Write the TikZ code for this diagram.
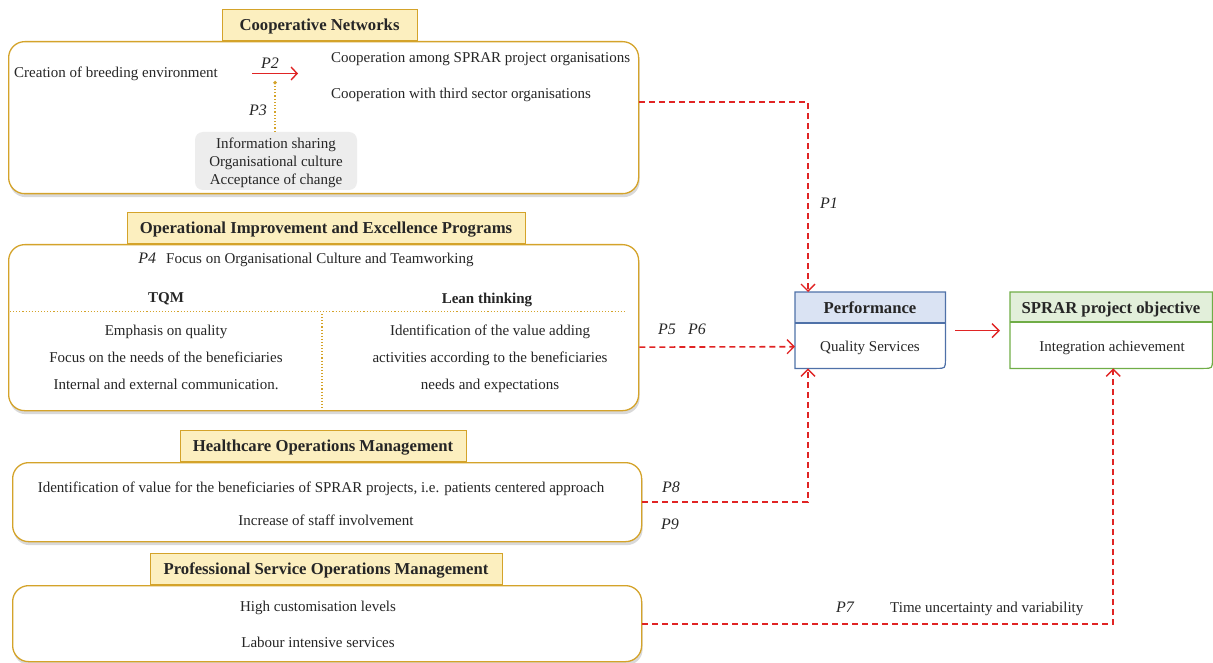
\documentclass[tikz,border=0pt]{standalone}
\usepackage{fontspec}
\setmainfont{Liberation Serif}
\usetikzlibrary{arrows.meta,shadows,calc}
\definecolor{gold}{HTML}{D4A32A}
\definecolor{titlefill}{HTML}{FCEFBF}
\definecolor{infofill}{HTML}{EDEDED}
\definecolor{perfline}{HTML}{4F71A8}
\definecolor{perffill}{HTML}{DAE3F3}
\definecolor{objline}{HTML}{70AD47}
\definecolor{objfill}{HTML}{E2EFDA}
\definecolor{linkred}{HTML}{E02424}
\definecolor{txt}{HTML}{262626}

\begin{document}
\begin{tikzpicture}[x=1pt,y=-1pt,
  every node/.style={text=txt, font=\fontsize{15}{18}\selectfont, inner sep=0pt, text depth=0pt},
  group/.style={draw=gold, line width=1.3pt, fill=white, rounded corners=16pt,
    drop shadow={shadow xshift=1pt, shadow yshift=-3.5pt, opacity=0.3}},
  grouptitle/.style={draw=gold, line width=0.9pt, fill=titlefill, minimum height=31,
    anchor=south, font=\fontsize{16.7}{20}\selectfont\bfseries},
  plabel/.style={font=\fontsize{16}{19}\selectfont\itshape},
  colhead/.style={font=\fontsize{15}{18}\selectfont\bfseries},
  boxhead/.style={font=\fontsize{16.7}{20}\selectfont\bfseries},
  divider/.style={draw=gold, line width=1.1pt, dotted},
  dashlink/.style={draw=linkred, line width=1.6pt, dash pattern=on 6pt off 4pt,
    -{Straight Barb[length=7pt,width=14pt,line width=1.4pt]}},
  solidlink/.style={draw=linkred, line width=1.5pt,
    -{Straight Barb[length=7pt,width=14pt,line width=1.4pt]}},
  outcome/.style={minimum width=#1, minimum height=76, anchor=north west},
]
\useasboundingbox (0,0) rectangle (1213,663);

% ---------- Cooperative Networks ----------
\node[group, minimum width=630, minimum height=152, anchor=north west] (cn) at (8,41) {};
\node[grouptitle, minimum width=195] (cnt) at (319.5,41) {Cooperative Networks};
\node[anchor=west] (breed) at (14,72) {Creation of breeding environment};
\node[plabel] (p2) at (270,63) {P2};
\coordinate (p2a) at (252,73.5);
\coordinate (p2b) at (298,73.5);
\draw[draw=linkred, line width=1.5pt, -{Straight Barb[length=6pt,width=13pt,line width=1.4pt]}] (p2a) -- (p2b);
\node[anchor=west] (coop1) at (331,58) {Cooperation among SPRAR project organisations};
\node[anchor=west] (coop2) at (331,93) {Cooperation with third sector organisations};
\node[plabel] (p3) at (258,110) {P3};
\node[fill=infofill, rounded corners=8pt, minimum width=162, minimum height=58,
      align=center, font=\fontsize{15}{18}\selectfont] (info) at (276,161)
  {Information sharing\\Organisational culture\\Acceptance of change};
\coordinate (p3top) at (275,81);
\draw[draw=gold, line width=1.2pt, dotted, -{Circle[length=3.5pt]}] (info.north -| p3top) -- (p3top);

% ---------- Operational Improvement and Excellence Programs ----------
\node[group, minimum width=630, minimum height=166, anchor=north west] (oi) at (8,244) {};
\node[grouptitle, minimum width=398] (oit) at (326,244) {Operational Improvement and Excellence Programs};
\node (focus) at (306,258) {{\fontsize{16}{19}\selectfont\itshape P4}\hspace{10pt}Focus on Organisational Culture and Teamworking};
\node[colhead] (tqm) at (166,298) {TQM};
\node[colhead] (lean) at (487,298) {Lean thinking};
\draw[divider] (10,311.5) -- (625,311.5);
\draw[divider] (322,314) -- (322,409);
\node (t1) at (166,330) {Emphasis on quality};
\node (t2) at (166,357) {Focus on the needs of the beneficiaries};
\node (t3) at (166,384) {Internal and external communication.};
\node (l1) at (490,330) {Identification of the value adding};
\node (l2) at (490,357) {activities according to the beneficiaries};
\node (l3) at (490,384) {needs and expectations};

% ---------- Healthcare Operations Management ----------
\node[group, minimum width=629, minimum height=79, anchor=north west] (hc) at (12,462) {};
\node[grouptitle, minimum width=286] (hct) at (323,462) {Healthcare Operations Management};
\node (h1) at (321,487) {Identification of value for the beneficiaries of SPRAR projects, i.e. patients centered approach};
\node (h2) at (326,520) {Increase of staff involvement};

% ---------- Professional Service Operations Management ----------
\node[group, minimum width=629, minimum height=76, anchor=north west] (ps) at (12,585) {};
\node[grouptitle, minimum width=352] (pst) at (326,585) {Professional Service Operations Management};
\node (s1) at (318,606) {High customisation levels};
\node (s2) at (318,642) {Labour intensive services};

% ---------- Performance ----------
\node[outcome=150] (perf) at (795,292) {};
\fill[perffill] (perf.north west) rectangle ($(perf.north east)+(0,31)$);
\draw[perfline, line width=1.2pt]
  (perf.north west) -- (perf.north east) -- ($(perf.south east)+(0,-9)$)
  .. controls (perf.south east) .. ($(perf.south east)+(-9,0)$) -- (perf.south west) -- cycle;
\draw[perfline, line width=1.2pt] ($(perf.north west)+(0,31)$) -- ($(perf.north east)+(0,31)$);
\node[boxhead] (perft) at (870,308) {Performance};
\node (perfq) at (870,346) {Quality Services};

% ---------- SPRAR project objective ----------
\node[outcome=202] (obj) at (1010,292) {};
\fill[objfill] (obj.north west) rectangle ($(obj.north east)+(0,30)$);
\draw[objline, line width=1.2pt]
  (obj.north west) -- (obj.north east) -- ($(obj.south east)+(0,-9)$)
  .. controls (obj.south east) .. ($(obj.south east)+(-9,0)$) -- (obj.south west) -- cycle;
\draw[objline, line width=1.2pt] ($(obj.north west)+(0,30)$) -- ($(obj.north east)+(0,30)$);
\node[boxhead] (objt) at (1111,308) {SPRAR project objective};
\node (obji) at (1112,346) {Integration achievement};

% ---------- links ----------
\draw[dashlink] ($(cn.east)+(0,-15.5)$) -| ($(perf.north west)+(13,0)$);
\node[plabel] (p1) at (829,203) {P1};

\draw[dashlink] ($(oi.east)+(0,19.5)$) -- ($(perf.west)+(0,16.5)$);
\node[plabel] (p5) at (667,329) {P5};
\node[plabel] (p6) at (697,329) {P6};

\draw[dashlink] (hc.east) -| ($(perf.south west)+(13,0)$);
\node[plabel] (p8) at (671,487) {P8};
\node[plabel] (p9) at (670,524) {P9};

\draw[dashlink] ($(ps.east)+(0,0.5)$) -| ($(obj.south)+(2,0)$);
\node[plabel] (p7) at (845,607) {P7};
\node[anchor=west] (timeu) at (890,607) {Time uncertainty and variability};

\draw[solidlink] ($(perf.east)+(10,0.5)$) -- ($(obj.west)+(-10,0.5)$);
\end{tikzpicture}
\end{document}
